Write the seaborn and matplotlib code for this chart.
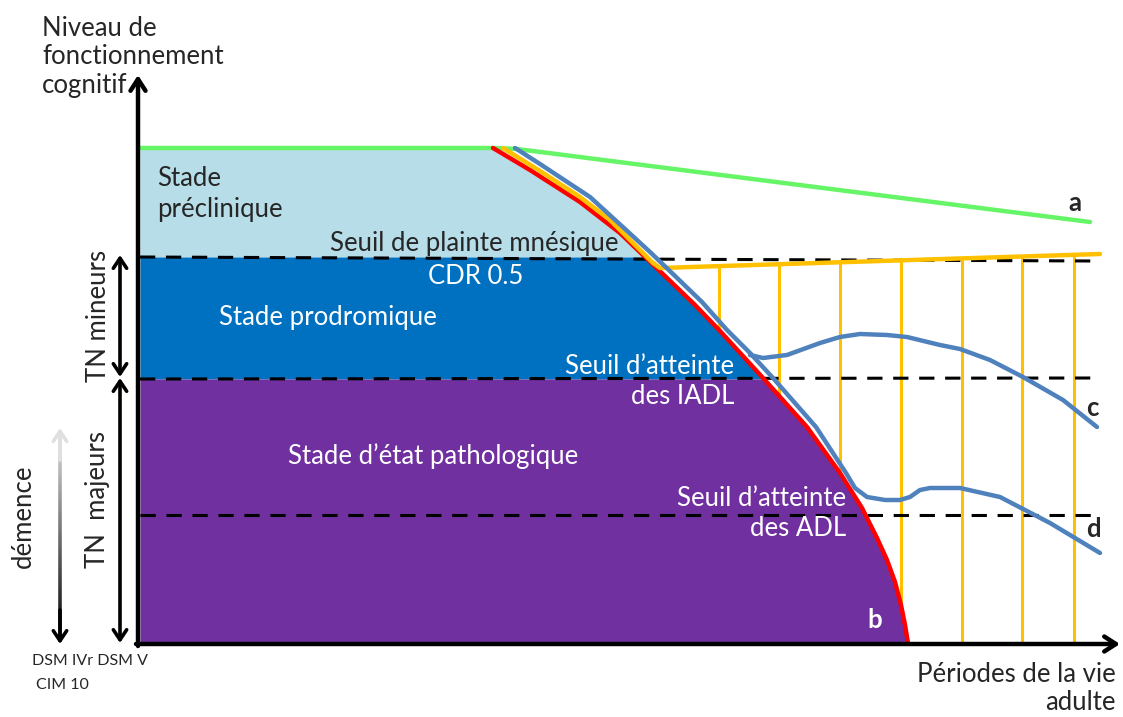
import numpy as np
import matplotlib
matplotlib.use("Agg")
import matplotlib.pyplot as plt
from matplotlib.collections import LineCollection
import seaborn as sns
import pandas as pd

# curves (x = time, y = level, screen-like units, y downward)
red_x = [493, 530, 580, 620, 643, 667, 695, 720, 763, 807, 840, 862, 877, 887, 895, 901, 905, 908]
red_y = [148, 170, 202, 233, 255, 278, 305, 331, 378, 427, 473, 508, 538, 560, 582, 605, 625, 643]

orange_x = [503, 540, 580, 610, 637, 653, 660, 1100]
orange_y = [148, 171, 197, 220, 247, 263, 268, 254]

blue_x = [515, 540, 590, 625, 650, 674, 702, 727, 750, 773, 816, 846, 855, 867,
          885, 900, 910, 920, 930, 960, 1000, 1050, 1100]
blue_y = [148, 164, 197, 229, 252, 275, 302, 330, 353, 378, 427, 473, 488, 497,
          500, 500, 497, 490, 488, 488, 497, 523, 553]

blue_c_x = [750, 763, 787, 820, 840, 860, 887, 907, 940, 960, 990, 1023, 1063, 1097]
blue_c_y = [355, 358, 355, 343, 337, 334, 335, 337, 345, 349, 360, 377, 400, 427]

green_x = [140, 495, 517, 1090]
green_y = [148, 148, 149, 222]

orange_ticks = [719, 779, 840, 901, 962, 1022, 1074]

# thresholds (top of plateau, memory complaint, IADL, ADL, floor)
y_top = 148
y_plainte = 257
y_iadl = 379
y_adl = 515
y_floor = 643
x_left = 140

stage_colors = ["#b7dde8", "#0070c0", "#7030a0"]

sns.set_theme(style="white")
plt.rcParams['font.family'] = ['Lato', 'DejaVu Sans']

fig = plt.figure(figsize=(11.23, 7.17), dpi=100)
ax = fig.add_axes([0, 0, 1, 1])

# stage bands, bounded on the right by the red curve
bands = [(y_top, y_plainte), (y_plainte, y_iadl), (y_iadl, y_floor)]
for (y0, y1), col in zip(bands, stage_colors):
    yy = np.linspace(y0, y1, 300)
    ax.fill_betweenx(yy, x_left, np.interp(yy, red_y, red_x), color=col, lw=0, zorder=2)

# orange vertical hatch (behind the bands)
top_at = np.interp(orange_ticks, orange_x[-2:], orange_y[-2:])
ax.vlines(orange_ticks, top_at, y_floor, color="#ffc000", lw=2.2, zorder=1)

# dashed thresholds
for yv, dy in [(y_plainte, 4), (y_iadl, -1), (y_adl, 0)]:
    ax.plot([x_left, 1095], [yv, yv + dy], color="black", lw=2.2, ls=(0, (5, 3.5)), zorder=4)

lines = pd.DataFrame({
    "x": green_x + red_x + orange_x + blue_x + blue_c_x,
    "y": green_y + red_y + orange_y + blue_y + blue_c_y,
    "curve": ["a"] * len(green_x) + ["b"] * len(red_x) + ["o"] * len(orange_x)
             + ["d"] * len(blue_x) + ["c"] * len(blue_c_x),
})
palette = {"a": "#66f566", "b": "#ff0000", "o": "#ffc000", "d": "#4f81bd", "c": "#4f81bd"}
sns.lineplot(data=lines, x="x", y="y", hue="curve", palette=palette, sort=False,
             estimator=None, lw=3.2, legend=False, ax=ax, zorder=5)
for ln in ax.get_lines():
    ln.set_solid_joinstyle("round")

ax.set_xlim(0, 1123)
ax.set_ylim(717, 0)
ax.axis("off")

# axes arrows
arw = dict(arrowstyle="->,head_length=0.7,head_width=0.45", lw=3.2, color="black",
           shrinkA=0, shrinkB=0)
ax.annotate("", xy=(138, 75), xytext=(138, 646), arrowprops=arw, zorder=6)
ax.annotate("", xy=(1120, 644), xytext=(136, 644), arrowprops=arw, zorder=6)

dbl = dict(arrowstyle="<->,head_length=0.6,head_width=0.4", lw=2.6, color="black",
           shrinkA=0, shrinkB=0)
ax.annotate("", xy=(120, 255), xytext=(120, 377), arrowprops=dbl)
ax.annotate("", xy=(120, 378), xytext=(120, 643), arrowprops=dbl)

# gradient arrow for "démence"
ys = np.linspace(432, 640, 120)
segs = [[(60, ys[i]), (60, ys[i + 1])] for i in range(len(ys) - 1)]
grays = np.linspace(0.88, 0.0, len(segs))
ax.add_collection(LineCollection(segs, colors=[(g, g, g) for g in grays], lw=2.6))
ax.annotate("", xy=(60, 428), xytext=(60, 460),
            arrowprops=dict(arrowstyle="->,head_length=0.6,head_width=0.4", lw=2.6,
                            color="#e0e0e0", shrinkA=0, shrinkB=0))
ax.annotate("", xy=(60, 644), xytext=(60, 610),
            arrowprops=dict(arrowstyle="->,head_length=0.6,head_width=0.4", lw=2.6,
                            color="black", shrinkA=0, shrinkB=0))

fs = 18.5
ax.text(42, 57, "Niveau de\nfonctionnement\ncognitif", fontsize=fs, va="center",
        ha="left", linespacing=1.2)
ax.text(157, 194, "Stade\npréclinique", fontsize=fs, va="center", ha="left",
        linespacing=1.25, zorder=7)
ax.text(474, 244, "Seuil de plainte mnésique", fontsize=fs, va="center", ha="center", zorder=7)
ax.text(476, 277, "CDR 0.5", fontsize=fs, va="center", ha="center", color="white", zorder=7)
ax.text(328, 318, "Stade prodromique", fontsize=fs, va="center", ha="center", color="white", zorder=7)
ax.text(734, 381, "Seuil d\u2019atteinte\ndes IADL", fontsize=fs, va="center", ha="right",
        color="white", linespacing=1.25, zorder=7)
ax.text(433, 456, "Stade d\u2019état pathologique", fontsize=fs, va="center", ha="center",
        color="white", zorder=7)
ax.text(846, 513, "Seuil d\u2019atteinte\ndes ADL", fontsize=fs, va="center", ha="right",
        color="white", linespacing=1.25, zorder=7)
ax.text(875, 620, "b", fontsize=fs, va="center", ha="center", color="white",
        fontweight="bold", zorder=7)
ax.text(1075, 203, "a", fontsize=fs, va="center", ha="center", fontweight="bold")
ax.text(1092, 408, "c", fontsize=fs, va="center", ha="center", fontweight="bold")
ax.text(1093, 529, "d", fontsize=fs, va="center", ha="center", fontweight="bold")

ax.text(98, 316, "TN mineurs", fontsize=fs, va="center", ha="center", rotation=90)
ax.text(98, 500, "TN  majeurs", fontsize=fs, va="center", ha="center", rotation=90)
ax.text(23, 516, "démence", fontsize=fs, va="center", ha="center", rotation=90)

ax.text(32, 661, "DSM IVr DSM V", fontsize=11.5, va="center", ha="left")
ax.text(36, 685, "CIM 10", fontsize=11.5, va="center", ha="left")
ax.text(1116, 689, "Périodes de la vie\nadulte", fontsize=fs, va="center", ha="right",
        linespacing=1.15)

fig.savefig("out.png", dpi=100)
